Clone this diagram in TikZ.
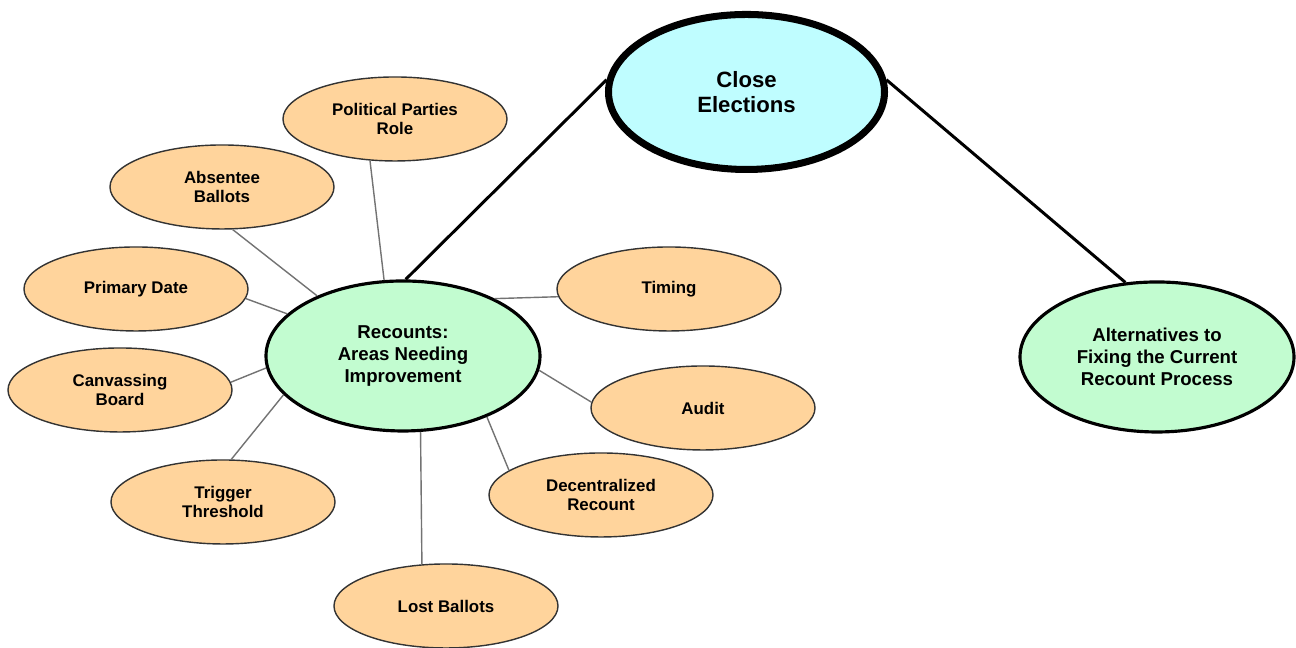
\documentclass[tikz,border=0pt]{standalone}
\usepackage{fontspec}
\setmainfont{Liberation Sans}
\usetikzlibrary{shapes.geometric}

\definecolor{topicfill}{HTML}{FFD49C}
\definecolor{rootfill}{HTML}{BFFDFF}
\definecolor{branchfill}{HTML}{C2FCD0}

\begin{document}
\begin{tikzpicture}[
  topic/.style={ellipse, draw=black!80, line width=0.4pt, fill=topicfill,
    minimum width=2.24cm, minimum height=0.84cm, inner sep=0pt, align=center,
    font=\fontsize{4.8}{5.3}\selectfont\bfseries},
  branch/.style={ellipse, draw=black, line width=0.9pt, fill=branchfill,
    minimum width=2.74cm, minimum height=1.5cm, inner sep=0pt, align=center,
    font=\fontsize{5.3}{6.2}\selectfont\bfseries},
  root/.style={ellipse, draw=black, line width=2pt, fill=rootfill,
    minimum width=2.76cm, minimum height=1.55cm, inner sep=0pt, align=center,
    font=\fontsize{6.3}{7.3}\selectfont\bfseries},
  spoke/.style={draw=black!55, line width=0.4pt},
  trunk/.style={draw=black, line width=0.85pt}]
  \useasboundingbox (0,0) rectangle (12.96,6.48);

  % main ideas
  \node[root] (close) at (7.465,5.56) {Close\\Elections};
  \node[branch] (recounts) at (4.03,2.92) {Recounts:\\Areas Needing\\Improvement};
  \node[branch] (alternatives) at (11.57,2.91) {Alternatives to\\Fixing the Current\\Recount Process};

  % areas round the recount node
  \node[topic] (political) at (3.95,5.29) {Political Parties\\Role};
  \node[topic] (absentee) at (2.22,4.61) {Absentee\\Ballots};
  \node[topic] (primary) at (1.36,3.59) {Primary Date};
  \node[topic] (canvassing) at (1.20,2.58) {Canvassing\\Board};
  \node[topic] (trigger) at (2.23,1.46) {Trigger\\Threshold};
  \node[topic] (lost) at (4.46,0.42) {Lost Ballots};
  \node[topic] (decentral) at (6.01,1.53) {Decentralized\\Recount};
  \node[topic] (audit) at (7.03,2.40) {Audit};
  \node[topic] (timing) at (6.69,3.59) {Timing};

  \draw[trunk] (recounts.88) -- (close.175);
  \draw[trunk] (close.5) -- (alternatives.113);

  \draw[spoke] (recounts.104) -- (political.239);
  \draw[spoke] (recounts.145) -- (absentee.284);
  \draw[spoke] (recounts.160) -- (primary.355);
  \draw[spoke] (recounts.185) -- (canvassing.4);
  \draw[spoke] (recounts.198) -- (trigger.79);
  \draw[spoke] (recounts.283) -- (lost.120);
  \draw[spoke] (recounts.324) -- (decentral.165);
  \draw[spoke] (recounts.354) -- (audit.177);
  \draw[spoke] (recounts.32) -- (timing.184);
\end{tikzpicture}
\end{document}
